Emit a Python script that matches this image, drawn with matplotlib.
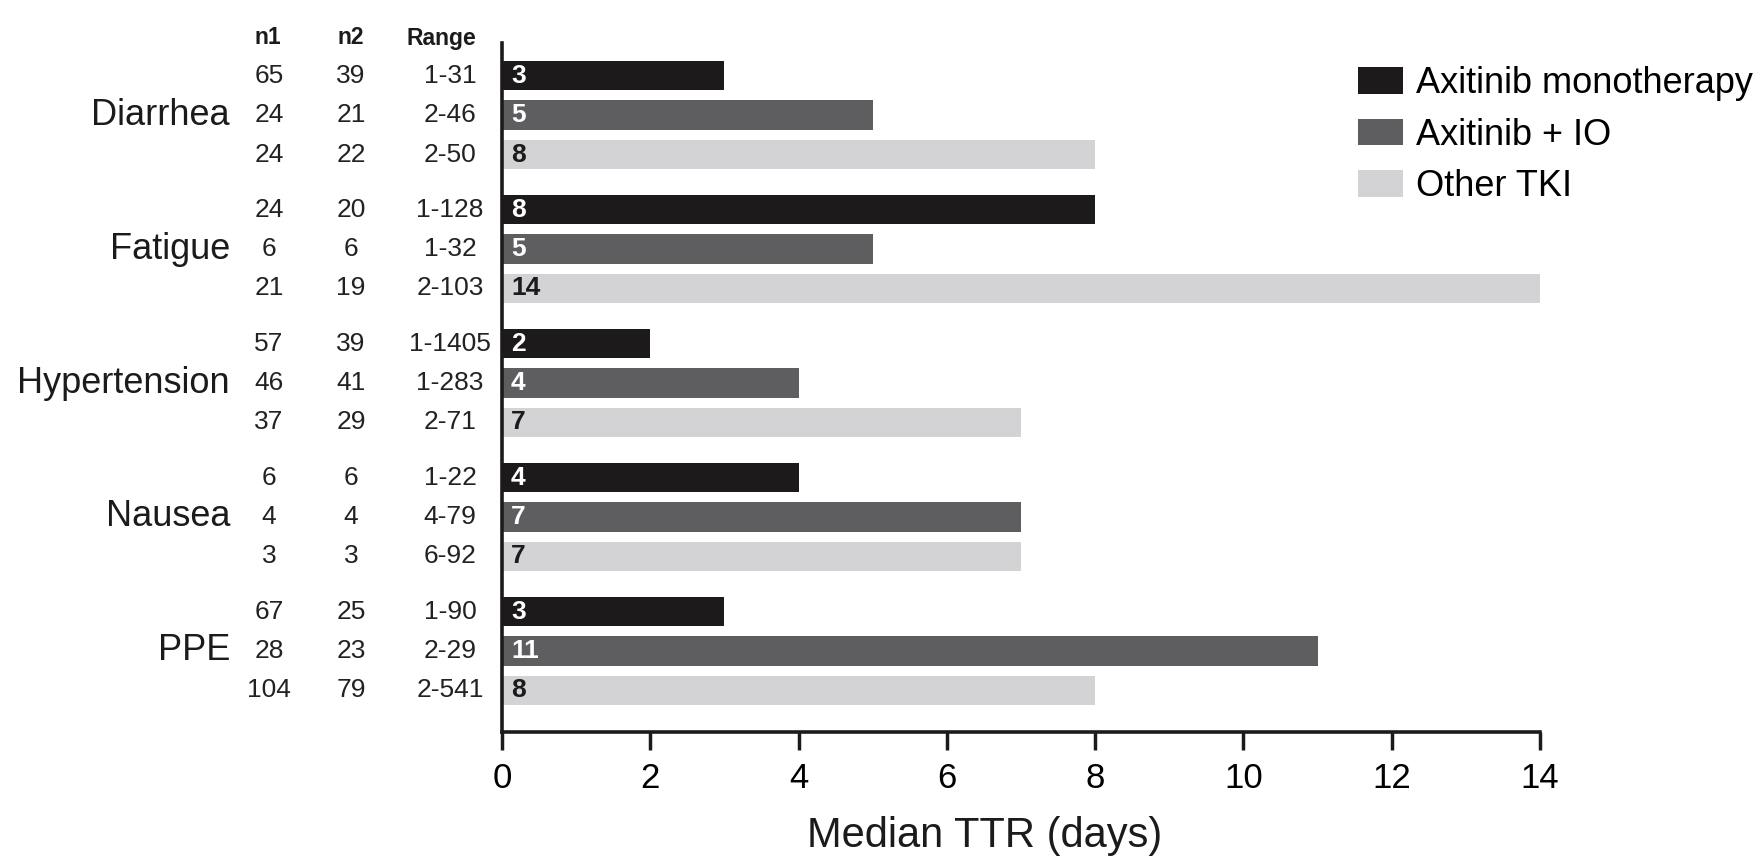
import matplotlib
matplotlib.use("Agg")
import matplotlib.pyplot as plt
from matplotlib.transforms import blended_transform_factory
from matplotlib.patches import Patch

plt.rcParams['font.family'] = ['Liberation Sans', 'DejaVu Sans']

categories = ['Diarrhea', 'Fatigue', 'Hypertension', 'Nausea', 'PPE']
series_names = ['Axitinib monotherapy', 'Axitinib + IO', 'Other TKI']

ttr_mono = [3, 8, 2, 4, 3]
ttr_io = [5, 5, 4, 7, 11]
ttr_other = [8, 14, 7, 7, 8]

n1_mono = [65, 24, 57, 6, 67]
n1_io = [24, 6, 46, 4, 28]
n1_other = [24, 21, 37, 3, 104]

n2_mono = [39, 20, 39, 6, 25]
n2_io = [21, 6, 41, 4, 23]
n2_other = [22, 19, 29, 3, 79]

range_mono = ['1-31', '1-128', '1-1405', '1-22', '1-90']
range_io = ['2-46', '1-32', '1-283', '4-79', '2-29']
range_other = ['2-50', '2-103', '2-71', '6-92', '2-541']

xticks = [0, 2, 4, 6, 8, 10, 12, 14]

colors = ['#1c1a1b', '#5e5e61', '#d3d3d5']
label_colors = ['white', 'white', '#1c1a1b']

W, H = 1760, 868
fig = plt.figure(figsize=(W / 100, H / 100), dpi=100)
ax = fig.add_axes([502 / W, 0.157, (1540 - 502) / W, 0.950 - 0.157])

group_gap = 3.4
bar_h = 0.75
ttr = [ttr_mono, ttr_io, ttr_other]
n1 = [n1_mono, n1_io, n1_other]
n2 = [n2_mono, n2_io, n2_other]
rng = [range_mono, range_io, range_other]

trans = blended_transform_factory(fig.transFigure, ax.transData)

for s in range(3):
    ys = [g * group_gap + s for g in range(len(categories))]
    ax.barh(ys, ttr[s], height=bar_h, color=colors[s], label=series_names[s], zorder=2)
    for g, y in enumerate(ys):
        ax.text(0.12, y, str(ttr[s][g]), color=label_colors[s], fontsize=19,
                fontweight='bold', ha='left', va='center', zorder=3)
        ax.text(269 / W, y, str(n1[s][g]), transform=trans, fontsize=19,
                ha='center', va='center', color='#222222', clip_on=False)
        ax.text(351 / W, y, str(n2[s][g]), transform=trans, fontsize=19,
                ha='center', va='center', color='#222222', clip_on=False)
        ax.text(450 / W, y, rng[s][g], transform=trans, fontsize=19,
                ha='center', va='center', color='#222222', clip_on=False)

for g, c in enumerate(categories):
    ax.text(230 / W, g * group_gap + 1, c, transform=trans, fontsize=26,
            ha='right', va='center', color='#1c1a1b', clip_on=False)

hy = 1 - 38 / H
for xx, t in [(268, 'n1'), (351, 'n2'), (441, 'Range')]:
    fig.text(xx / W, hy, t, fontsize=16.5, fontweight='bold', ha='center',
             va='center', color='#1c1a1b')

ax.set_ylim(4 * group_gap + 2 + 1.05, -0.82)
ax.set_xlim(0, 14)
ax.set_xticks(xticks)
ax.set_xticklabels([str(t) for t in xticks])
ax.set_yticks([])
ax.tick_params(axis='x', length=13, width=2.5, labelsize=25, pad=9, color='#1c1a1b')
for sp in ['top', 'right']:
    ax.spines[sp].set_visible(False)
for sp in ['left', 'bottom']:
    ax.spines[sp].set_linewidth(2.6)
    ax.spines[sp].set_color('#1c1a1b')

fig.text(985 / W, 1 - 836 / H, 'Median TTR (days)', fontsize=30, ha='center',
         va='center', color='#1c1a1b')

handles = [Patch(facecolor=colors[i], label=series_names[i]) for i in range(3)]
fig.legend(handles=handles, loc='upper left', bbox_to_anchor=(1358 / W, 1 - 66 / H),
           frameon=False, fontsize=26, handlelength=1.25, handleheight=0.75,
           handletextpad=0.36, labelspacing=0.46, borderpad=0, borderaxespad=0)

fig.savefig('out.png', dpi=100)
